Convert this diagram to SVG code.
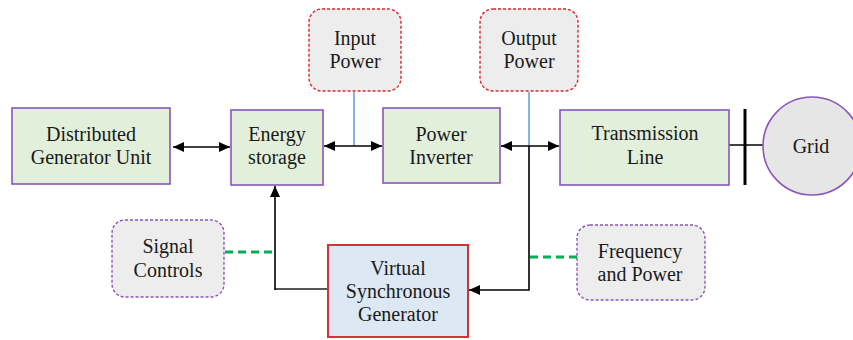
<svg xmlns="http://www.w3.org/2000/svg" width="853" height="340" viewBox="0 0 853 340">
  <style>
    text { font-family: "Liberation Serif", serif; font-size: 20px; fill: #1a1a1a; text-anchor: middle; }
    .block { fill: #e2efda; stroke: #8a56b8; stroke-width: 1.6; }
    .src { fill: #ededed; stroke: #d9262b; stroke-width: 1.4; stroke-dasharray: 3 2; }
    .aux { fill: #ededed; stroke: #8a56b8; stroke-width: 1.4; stroke-dasharray: 3 2; }
    .vsg { fill: #dde8f5; stroke: #d0343a; stroke-width: 2; }
    .grid { fill: #e6e6e6; stroke: #8a56b8; stroke-width: 1.6; }
    .wire { stroke: #000; stroke-width: 1.6; fill: none; }
    .tap { stroke: #5b9bd5; stroke-width: 1.5; fill: none; }
    .sig { stroke: #00b050; stroke-width: 3; stroke-dasharray: 8 5; fill: none; }
  </style>
  <defs>
    <marker id="head" viewBox="0 0 11 10" refX="11" refY="5" markerWidth="11" markerHeight="10" markerUnits="userSpaceOnUse" orient="auto-start-reverse">
      <path d="M0,0 L11,5 L0,10 Z" fill="#000"/>
    </marker>
  </defs>

  <g id="connectors">
    <line class="wire" x1="173" y1="147" x2="230" y2="147" marker-start="url(#head)" marker-end="url(#head)"/>
    <line class="tap" x1="354" y1="92" x2="354" y2="146"/>
    <line class="wire" x1="324" y1="146" x2="382" y2="146" marker-start="url(#head)" marker-end="url(#head)"/>
    <line class="tap" x1="529" y1="92" x2="529" y2="146"/>
    <line class="wire" x1="501" y1="146" x2="559" y2="146" marker-start="url(#head)" marker-end="url(#head)"/>
    <line class="wire" x1="729" y1="145" x2="763" y2="145"/>
    <line x1="745" y1="109" x2="745" y2="185" stroke="#000" stroke-width="3"/>
    <polyline class="wire" points="529,146 529,290 469,290" marker-end="url(#head)"/>
    <line x1="275" y1="289" x2="327" y2="289" stroke="#555" stroke-width="2"/>
    <line class="wire" x1="275" y1="290" x2="275" y2="186" marker-end="url(#head)"/>
    <line class="sig" x1="225" y1="252" x2="275" y2="252"/>
    <line class="sig" x1="530" y1="257" x2="577" y2="257"/>
  </g>

  <g id="dg-unit">
    <rect class="block" x="12" y="108" width="158" height="76"/>
    <text x="91" y="141">Distributed</text>
    <text x="91" y="164">Generator Unit</text>
  </g>

  <g id="energy-storage">
    <rect class="block" x="231" y="110" width="92" height="75"/>
    <text x="277" y="141">Energy</text>
    <text x="277" y="164">storage</text>
  </g>

  <g id="input-power">
    <rect class="src" x="309" y="9" width="92" height="82" rx="13"/>
    <text x="355" y="45">Input</text>
    <text x="355" y="68">Power</text>
  </g>

  <g id="power-inverter">
    <rect class="block" x="383" y="108" width="117" height="75"/>
    <text x="441" y="141">Power</text>
    <text x="441" y="164">Inverter</text>
  </g>

  <g id="output-power">
    <rect class="src" x="480" y="9" width="98" height="82" rx="13"/>
    <text x="529" y="45">Output</text>
    <text x="529" y="68">Power</text>
  </g>

  <g id="transmission-line">
    <rect class="block" x="560" y="110" width="169" height="75"/>
    <text x="645" y="140">Transmission</text>
    <text x="645" y="164">Line</text>
  </g>

  <g id="grid">
    <circle class="grid" cx="812" cy="146" r="49"/>
    <text x="811" y="153">Grid</text>
  </g>

  <g id="signal-controls">
    <rect class="aux" x="112" y="220" width="112" height="77" rx="13"/>
    <text x="168" y="253">Signal</text>
    <text x="168" y="277">Controls</text>
  </g>

  <g id="vsg">
    <rect class="vsg" x="328" y="245" width="140" height="92"/>
    <text x="398" y="275">Virtual</text>
    <text x="398" y="298">Synchronous</text>
    <text x="398" y="321">Generator</text>
  </g>

  <g id="freq-power">
    <rect class="aux" x="577" y="225" width="128" height="75" rx="13"/>
    <text x="640" y="258">Frequency</text>
    <text x="640" y="281">and Power</text>
  </g>
</svg>
